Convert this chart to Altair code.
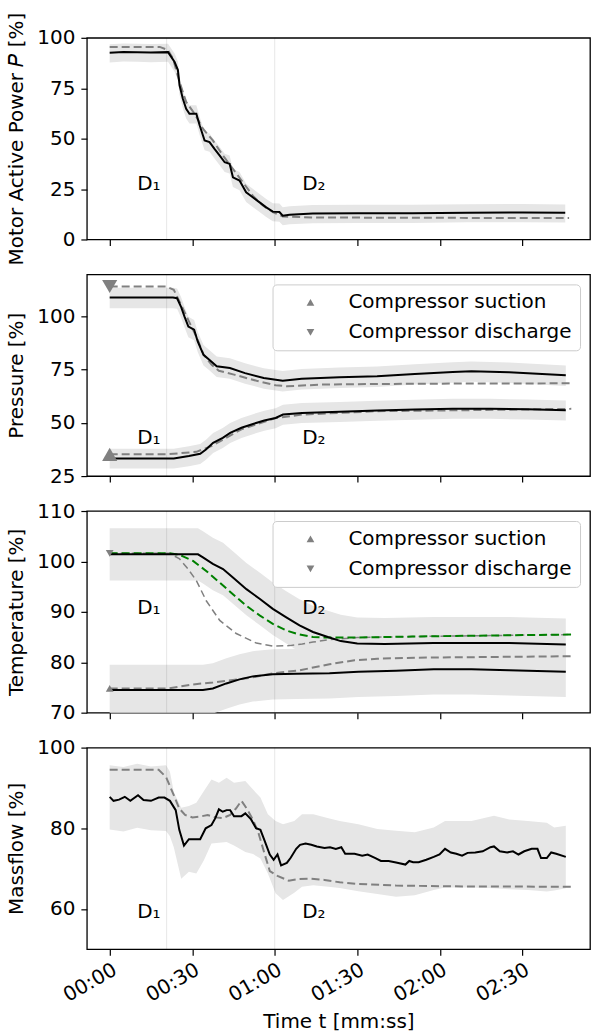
import altair as alt
import pandas as pd

# Shared time axis (seconds) and event markers
T_DOMAIN = [-8.3, 174.6]
T_TICKS = [0, 30, 60, 90, 120, 150]
D1, D2 = 20.7, 60.0
EVENT_LABELS = ["D\u2081", "D\u2082"]
EVENT_LABEL_T = [10.0, 70.0]

# --- Motor active power ---
t_p = [0, 5, 10, 15, 21.2, 23.6, 24.8, 25.4, 26.6, 27.8, 29.0, 31.5, 32.7, 34.5, 36.3,
       38.1, 40.0, 41.8, 43.6, 44.8, 47.2, 49.6, 52.0, 54.5, 56.9, 59.3, 61.7, 62.9,
       65.4, 73.8, 90, 110, 130, 150, 165.6]
p_model = [92.6, 93.0, 92.9, 92.7, 92.9, 88.0, 84.0, 76.4, 69.8, 64.8, 62.3, 62.3, 56.6,
           49.1, 48.3, 44.9, 41.6, 38.3, 37.5, 30.8, 29.2, 23.4, 20.9, 18.4, 15.9, 13.8,
           13.6, 11.8, 12.3, 12.9, 13.0, 13.0, 13.3, 13.4, 13.2]
p_spread = (4.2, 4.8)  # band above / below the model
t_pm = [0, 18.2, 21.2, 23.0, 25.4, 27.8, 30.9, 33.9, 37.5, 41.2, 44.8, 48.4, 52.0, 55.7,
        59.3, 62.9, 73.8, 100, 130, 167]
p_meas = [95.5, 95.5, 93.9, 89.7, 78.1, 68.2, 62.3, 54.9, 49.1, 41.6, 35.0, 28.4, 21.7,
          16.8, 13.6, 11.4, 10.9, 10.8, 10.7, 10.6]

# --- Pressure ---
t_pd = [0, 10, 23, 24.5, 25.9, 27.2, 28.6, 30.7, 32.0, 34.1, 36.2, 38.9, 43.7, 49.2, 56.0,
        62.9, 69.8, 83.5, 97.2, 110.9, 124.7, 131.5, 145.2, 165.8]
pd_model = [108.9, 108.9, 108.9, 108.6, 104.7, 100.0, 95.3, 93.8, 88.3, 82.0, 79.7, 76.6,
            75.8, 73.4, 71.1, 69.8, 70.7, 71.4, 71.9, 73.0, 73.9, 74.3, 73.8, 72.4]
pd_spread = (4.6, 5.0)
t_pdm = [0, 20.5, 23.3, 26.0, 28.8, 31.5, 34.2, 37.0, 39.7, 45.2, 53.4, 60.3, 64.4, 76.7,
         97.3, 130, 167.8]
pd_meas = [114.1, 114.1, 112.6, 105.4, 97.7, 90.6, 82.0, 77.4, 74.5, 72.7, 69.8, 67.7,
           67.2, 68.0, 68.3, 68.5, 68.6]
t_ps = [0, 10, 23.3, 28.8, 32.9, 35.0, 37.6, 41.1, 43.8, 47.9, 52.1, 56.2, 60.3, 63.0,
        69.9, 83.6, 97.3, 110.9, 124.7, 138.4, 152.0, 165.8]
ps_model = [33.3, 33.3, 33.3, 34.4, 35.5, 37.5, 40.6, 43.0, 45.3, 47.7, 49.5, 51.1, 52.3,
            53.9, 54.7, 55.2, 55.8, 56.3, 56.7, 56.7, 56.4, 55.9]
ps_spread = (4.6, 4.8)
t_psm = [0, 20.5, 31.5, 37.0, 47.9, 60.3, 69.9, 83.6, 97.3, 124.7, 167.8]
ps_meas = [35.2, 35.2, 36.4, 39.1, 47.0, 52.3, 53.9, 54.7, 55.5, 55.9, 56.6]

# --- Temperature ---
t_td = [0, 15, 32.1, 33.9, 37.5, 41.2, 44.8, 49.7, 54.5, 59.3, 64.2, 69.0, 73.9, 79.3, 84,
        90, 100, 117.8, 131.5, 145.2, 165.8]
td_model = [101.4, 101.4, 101.4, 100.8, 99.5, 98.5, 96.8, 94.5, 92.6, 90.6, 88.9, 87.3,
            86.0, 85.0, 84.2, 83.7, 83.6, 83.8, 83.8, 83.8, 83.5]
td_spread = (5.2, 5.2)
t_tdg = [0, 21.8, 25.4, 30.3, 35.1, 40.0, 44.8, 49.7, 54.5, 59.3, 64.2, 69.0, 73.9, 79.3,
         90, 110, 137, 167.8]
td_corr = [101.6, 101.6, 101.3, 100.1, 98.1, 95.8, 93.5, 91.2, 89.3, 87.6, 86.3, 85.5,
           85.0, 84.9, 84.9, 85.1, 85.3, 85.5]
t_tdm = [0, 21.8, 25.4, 28.5, 31.5, 35.1, 40.0, 46.0, 53.3, 59.3, 65.4, 70, 73.9, 80, 90,
         110, 167.8]
td_meas = [101.6, 101.6, 100.5, 98.5, 96.2, 92.2, 88.3, 85.7, 83.8, 83.2, 83.3, 83.6, 84.0,
           84.5, 84.9, 85.1, 85.5]
t_ts = [0, 15, 33.9, 37.5, 42.4, 47.2, 52.0, 59.3, 67.8, 79.9, 90.4, 104.1, 117.8, 131.5,
        145.2, 165.8]
ts_model = [74.5, 74.5, 74.5, 74.8, 75.8, 76.6, 77.2, 77.6, 77.7, 77.8, 78.1, 78.3, 78.6,
            78.6, 78.4, 78.1]
ts_spread = (5.0, 5.0)
t_tsm = [0, 21.2, 30.3, 37.5, 44.8, 52, 59.3, 69.0, 79.9, 89.0, 97.3, 110.9, 130, 167.8]
ts_meas = [74.8, 74.8, 75.6, 76.0, 76.5, 77.0, 77.8, 78.4, 79.6, 80.4, 80.7, 80.9, 81.0, 81.2]

# --- Massflow ---
t_m = [0, 1.4, 3.4, 5.5, 7.5, 10.3, 12.3, 15, 17.8, 19.9, 21.9, 24, 25.3, 27, 28.8, 31.5,
       32.9, 34.9, 37, 38.4, 39.7, 41.1, 42.5, 43.8, 45.2, 47.9, 49.3, 51.4, 53.2, 54.8,
       56.2, 58.2, 59.6, 61, 62.3, 64.4, 65.8, 67.8, 69.2, 71.2, 73.3, 75.3, 78.1, 80.1,
       82.2, 84.2, 85.6, 89, 91.8, 93.8, 96.6, 98.6, 101.4, 104.1, 107.5, 108.9, 110.3,
       112.3, 115.1, 117.8, 119.9, 121.9, 124, 126, 128.1, 130.1, 132.9, 135.6, 138.4,
       139.7, 141.8, 144.5, 146.6, 148.6, 150.7, 153.4, 155.5, 156.8, 158.9, 160.5, 162.3,
       165.8]
m_model = [87.8, 86.8, 87.1, 87.8, 86.8, 88.2, 87.0, 86.8, 87.6, 87.6, 86.8, 84.5, 79.6,
           75.7, 77.3, 77.3, 77.3, 80.0, 80.8, 82.5, 84.7, 84.1, 84.5, 84.5, 83.0, 83.0,
           83.7, 82.2, 80.0, 79.6, 77.1, 73.5, 72.2, 73.5, 70.8, 71.4, 72.7, 74.9, 75.9,
           76.2, 75.9, 75.5, 75.1, 75.3, 74.9, 75.3, 73.7, 73.7, 73.2, 73.5, 72.6, 71.9,
           71.9, 71.5, 71.0, 71.9, 71.6, 71.6, 72.2, 72.9, 73.5, 74.9, 74.0, 73.7, 73.2,
           73.9, 74.0, 74.3, 75.3, 75.5, 74.3, 74.0, 74.3, 73.5, 74.3, 74.9, 74.9, 72.6,
           72.6, 74.0, 73.7, 72.9]
t_mm = [0, 17.8, 20.5, 23.3, 25.3, 27.4, 30.1, 32.9, 35.6, 38.4, 41.1, 43.8, 45.9, 47.9,
        50, 52.1, 54.1, 56.2, 58.2, 61, 65.1, 68.5, 72.6, 78.1, 83.6, 90.4, 104.1, 124.7,
        167.8]
m_meas = [94.5, 94.5, 92.7, 88.2, 84.9, 83.3, 82.7, 82.9, 83.3, 82.7, 82.5, 83.3, 84.9,
          86.8, 84.7, 82.1, 78.8, 73.9, 69.4, 68.2, 67.0, 67.4, 67.5, 67.2, 66.6, 66.2,
          65.8, 65.6, 65.5]
t_mb = [0, 5, 10, 15, 20.5, 21.9, 23.3, 26, 28.8, 31.5, 34.2, 37, 39.7, 42.5, 45.2, 49.3,
        52.1, 54.8, 57.5, 60.3, 63, 67.1, 69.9, 74, 79.5, 83.6, 90.4, 97.3, 104.1, 110.9,
        117.8, 121.9, 131.5, 139.7, 145.2, 152, 158.9, 161.6, 165.8]
m_hi = [95.6, 95.2, 96.0, 95.3, 95.6, 94.0, 89.0, 85.1, 85.5, 86.3, 89.2, 92.1, 91.3, 92.5,
        91.3, 91.7, 89.6, 87.6, 83.5, 81.8, 81.0, 81.8, 83.5, 83.5, 82.5, 81.8, 81.0, 79.8,
        79.4, 79.0, 80.2, 81.8, 81.8, 83.1, 82.2, 81.8, 81.4, 80.2, 80.6]
m_lo = [79.7, 79.2, 80.1, 79.5, 79.3, 78.0, 75.3, 67.5, 69.2, 68.8, 72.0, 76.2, 76.4, 76.6,
        75.7, 74.1, 73.6, 72.5, 68.8, 63.9, 62.2, 64.0, 65.5, 65.9, 65.5, 65.2, 64.4, 63.7,
        63.0, 63.4, 64.7, 65.3, 65.3, 65.1, 64.9, 64.7, 64.3, 64.6, 65.1]

SERIES = ["Compressor suction", "Compressor discharge"]
GRAY = "#808080"
BAND = "#e6e6e6"
FONT = "DejaVu Sans"

x_scale = alt.Scale(domain=T_DOMAIN, nice=False, zero=False)


def x_axis(bottom):
    if bottom:
        return alt.Axis(values=T_TICKS, title="Time t [mm:ss]", labelAngle=330,
                        labelAlign="right", labelBaseline="top", labelPadding=4,
                        labelExpr="timeFormat(datetime(2000, 0, 1, 0, 0, datum.value), '%M:%S')",
                        titlePadding=6)
    return alt.Axis(values=T_TICKS, labels=False, title=None)


def line_df(t, v):
    return pd.DataFrame({"t": t, "v": v})


def band_df(t, v, spread):
    up, dn = spread
    return pd.DataFrame({"t": t, "lo": [a - dn for a in v], "hi": [a + up for a in v]})


def panel(layers_spec, ydom, yticks, ytitle, label_y, bottom=False, markers=None):
    xa = x_axis(bottom)
    ya = alt.Axis(values=yticks, title=ytitle, titlePadding=10)
    ys = alt.Scale(domain=ydom, nice=False, zero=False)
    X = lambda: alt.X("t:Q", scale=x_scale, axis=xa)
    layers = []
    # uncertainty bands first
    for kind, df, style in layers_spec:
        if kind == "band":
            layers.append(alt.Chart(df).mark_area(color=BAND, opacity=1, clip=True).encode(
                x=X(), y=alt.Y("lo:Q", scale=ys, axis=ya), y2="hi:Q"))
    rules = pd.DataFrame({"t": [D1, D2]})
    layers.append(alt.Chart(rules).mark_rule(color="black", opacity=0.1, strokeWidth=1).encode(
        x=X()))
    for kind, df, style in layers_spec:
        if kind == "line":
            layers.append(alt.Chart(df).mark_line(clip=True, **style).encode(
                x=X(), y=alt.Y("v:Q", scale=ys, axis=ya)))
    labels = pd.DataFrame({"t": EVENT_LABEL_T, "v": [label_y] * 2, "label": EVENT_LABELS})
    layers.append(alt.Chart(labels).mark_text(align="left", baseline="alphabetic",
                                              fontSize=20, font=FONT, color="black").encode(
        x=X(), y=alt.Y("v:Q", scale=ys, axis=ya), text="label:N"))
    if markers is not None:
        mdf, msize = markers
        layers.append(alt.Chart(mdf).mark_point(filled=True, opacity=1, color=GRAY,
                                                size=msize, clip=False).encode(
            x=X(), y=alt.Y("v:Q", scale=ys, axis=ya),
            shape=alt.Shape("series:N",
                            scale=alt.Scale(domain=SERIES, range=["triangle-up", "triangle-down"]),
                            legend=alt.Legend(title=None, orient="top-right", offset=10,
                                              padding=8, fillColor="white",
                                              strokeColor="#cccccc", cornerRadius=4,
                                              labelFontSize=20, labelFont=FONT,
                                              labelColor="black", labelLimit=0,
                                              symbolSize=60, symbolFillColor=GRAY,
                                              symbolStrokeColor=GRAY, symbolOffset=20,
                                              labelOffset=28, rowPadding=10))))
    return alt.layer(*layers).properties(width=504, height=202)


solid = dict(color="black", strokeWidth=2)
dashed = dict(color=GRAY, strokeWidth=2, strokeDash=[8, 4])
thin_dashed = dict(color=GRAY, strokeWidth=1.5, strokeDash=[7, 4])
green_dashed = dict(color="#008000", strokeWidth=2, strokeDash=[8, 4])

p1 = panel([
    ("band", band_df(t_p, p_model, p_spread), None),
    ("line", line_df(t_pm, p_meas), dashed),
    ("line", line_df(t_p, p_model), solid),
], [0, 100], [0, 25, 50, 75, 100], "Motor Active Power \U0001D443 [%]", 24.5)

m2 = pd.DataFrame({"t": [t_psm[0], t_pdm[0]], "v": [ps_meas[0], pd_meas[0]], "series": SERIES})
p2 = panel([
    ("band", band_df(t_pd, pd_model, pd_spread), None),
    ("band", band_df(t_ps, ps_model, ps_spread), None),
    ("line", line_df(t_pdm, pd_meas), dashed),
    ("line", line_df(t_psm, ps_meas), dashed),
    ("line", line_df(t_pd, pd_model), solid),
    ("line", line_df(t_ps, ps_model), solid),
], [25, 119.8], [25, 50, 75, 100], "Pressure [%]", 40, markers=(m2, 230))

m3 = pd.DataFrame({"t": [t_tsm[0], t_tdm[0]], "v": [ts_meas[0], td_meas[0]], "series": SERIES})
p3 = panel([
    ("band", band_df(t_td, td_model, td_spread), None),
    ("band", band_df(t_ts, ts_model, ts_spread), None),
    ("line", line_df(t_tdm, td_meas), thin_dashed),
    ("line", line_df(t_tsm, ts_meas), dashed),
    ("line", line_df(t_tdg, td_corr), green_dashed),
    ("line", line_df(t_td, td_model), solid),
    ("line", line_df(t_ts, ts_model), solid),
], [70, 110], [70, 80, 90, 100, 110], "Temperature [%]", 89.6, markers=(m3, 60))

band4 = pd.DataFrame({"t": t_mb, "lo": m_lo, "hi": m_hi})
p4 = panel([
    ("band", band4, None),
    ("line", line_df(t_mm, m_meas), dashed),
    ("line", line_df(t_m, m_model), solid),
], [50, 100], [60, 80, 100], "Massflow [%]", 57.8, bottom=True)

chart = alt.vconcat(p1, p2, p3, p4, spacing=35, bounds="flush").resolve_scale(
    shape="independent").resolve_legend(shape="independent").properties(
    padding={"left": 6, "top": 10, "right": 1, "bottom": 2}
).configure_view(stroke="black", strokeWidth=1.3).configure_axis(
    domain=False, grid=False, tickColor="black", tickSize=6, tickWidth=1.2,
    labelFontSize=20, labelFont=FONT, labelColor="black", labelPadding=6,
    titleFontSize=20, titleFont=FONT, titleFontWeight="normal", titleColor="black"
)

chart.save("out.html", embed_options={"renderer": "svg", "actions": False})
